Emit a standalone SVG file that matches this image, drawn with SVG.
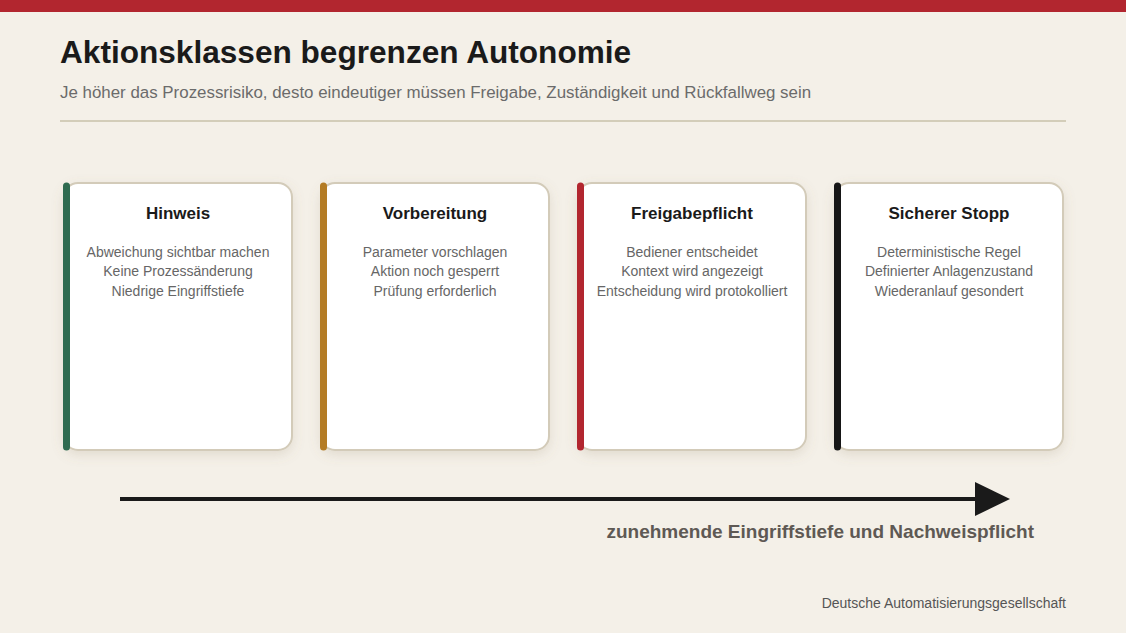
<svg xmlns="http://www.w3.org/2000/svg" width="1126" height="633" viewBox="0 0 1126 633">
<defs>
<filter id="sh" x="-20%" y="-20%" width="140%" height="140%">
<feDropShadow dx="0" dy="4" stdDeviation="6" flood-color="#8a7a5a" flood-opacity="0.18"/>
</filter>
</defs>
<style>
.card{fill:#ffffff;stroke:#d3cbb9;stroke-width:2;filter:url(#sh)}
.bar{stroke-width:7;stroke-linecap:round;fill:none}
.ct{font-family:"Liberation Sans",Arial,sans-serif;font-size:17px;font-weight:bold;fill:#1a1a1a;text-anchor:middle}
.cb{font-family:"Liberation Sans",Arial,sans-serif;font-size:14px;fill:#666666;text-anchor:middle}
</style>
<rect x="0" y="0" width="1126" height="633" fill="#f4f0e8"/>
<rect x="0" y="0" width="1126" height="12" fill="#b2262f"/>
<text x="60" y="63" font-family="Liberation Sans,Arial,sans-serif" font-size="31.6" font-weight="bold" fill="#1a1a1a">Aktionsklassen begrenzen Autonomie</text>
<text x="60" y="98" font-family="Liberation Sans,Arial,sans-serif" font-size="16.9" fill="#6b6b6b">Je höher das Prozessrisiko, desto eindeutiger müssen Freigabe, Zuständigkeit und Rückfallweg sein</text>
<line x1="60" y1="121" x2="1066" y2="121" stroke="#d3cdb9" stroke-width="2"/>

<g id="node-hinweis">
<rect class="card" x="64" y="183" width="228" height="267" rx="14"/>
<line class="bar" x1="66.5" y1="186" x2="66.5" y2="447" stroke="#2f6b50"/>
<text class="ct" x="178" y="219">Hinweis</text>
<text class="cb" x="178" y="257">Abweichung sichtbar machen</text>
<text class="cb" x="178" y="276">Keine Prozessänderung</text>
<text class="cb" x="178" y="296">Niedrige Eingriffstiefe</text>
</g>
<g id="node-vorbereitung">
<rect class="card" x="321" y="183" width="228" height="267" rx="14"/>
<line class="bar" x1="323.5" y1="186" x2="323.5" y2="447" stroke="#b47c25"/>
<text class="ct" x="435" y="219">Vorbereitung</text>
<text class="cb" x="435" y="257">Parameter vorschlagen</text>
<text class="cb" x="435" y="276">Aktion noch gesperrt</text>
<text class="cb" x="435" y="296">Prüfung erforderlich</text>
</g>
<g id="node-freigabepflicht">
<rect class="card" x="578" y="183" width="228" height="267" rx="14"/>
<line class="bar" x1="580.5" y1="186" x2="580.5" y2="447" stroke="#b2262f"/>
<text class="ct" x="692" y="219">Freigabepflicht</text>
<text class="cb" x="692" y="257">Bediener entscheidet</text>
<text class="cb" x="692" y="276">Kontext wird angezeigt</text>
<text class="cb" x="692" y="296">Entscheidung wird protokolliert</text>
</g>
<g id="node-sicherer-stopp">
<rect class="card" x="835" y="183" width="228" height="267" rx="14"/>
<line class="bar" x1="837.5" y1="186" x2="837.5" y2="447" stroke="#161616"/>
<text class="ct" x="949" y="219">Sicherer Stopp</text>
<text class="cb" x="949" y="257">Deterministische Regel</text>
<text class="cb" x="949" y="276">Definierter Anlagenzustand</text>
<text class="cb" x="949" y="296">Wiederanlauf gesondert</text>
</g>

<g id="connectors">
<line x1="120" y1="499" x2="976" y2="499" stroke="#1a1a1a" stroke-width="4"/>
<path d="M975,482 L1010,499 L975,516 Z" fill="#1a1a1a"/>
</g>
<text x="1034" y="538" text-anchor="end" font-family="Liberation Sans,Arial,sans-serif" font-size="19" font-weight="bold" fill="#5e5954">zunehmende Eingriffstiefe und Nachweispflicht</text>
<text x="1066" y="608" text-anchor="end" font-family="Liberation Sans,Arial,sans-serif" font-size="14" fill="#555555">Deutsche Automatisierungsgesellschaft</text>
</svg>
